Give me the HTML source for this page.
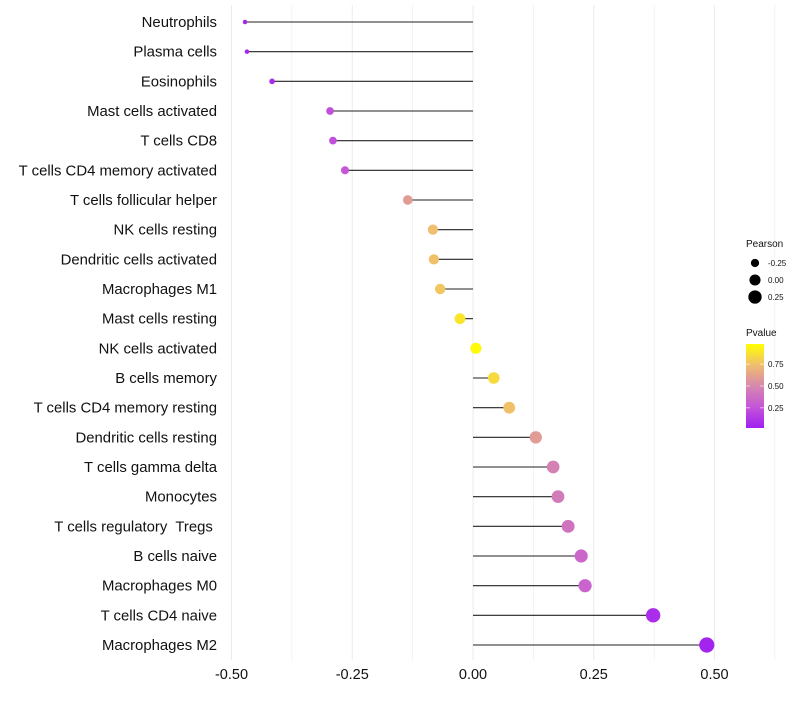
<!DOCTYPE html>
<html><head><meta charset="utf-8"><style>
body{margin:0;background:#fff;font-family:"Liberation Sans",sans-serif}
svg text{font-family:"Liberation Sans",sans-serif;white-space:pre}
</style></head><body>
<svg id="chart" width="800" height="700"></svg>
<script>
const categories=["Neutrophils","Plasma cells","Eosinophils","Mast cells activated","T cells CD8","T cells CD4 memory activated","T cells follicular helper","NK cells resting","Dendritic cells activated","Macrophages M1","Mast cells resting","NK cells activated","B cells memory","T cells CD4 memory resting","Dendritic cells resting","T cells gamma delta","Monocytes","T cells regulatory  Tregs ","B cells naive","Macrophages M0","T cells CD4 naive","Macrophages M2"];
const pearson=[-0.472,-0.468,-0.416,-0.296,-0.290,-0.265,-0.135,-0.083,-0.081,-0.068,-0.027,0.006,0.043,0.075,0.130,0.166,0.176,0.197,0.224,0.232,0.373,0.484];
const pvalue=[0.03,0.03,0.06,0.22,0.22,0.26,0.6,0.75,0.76,0.78,0.9,0.98,0.86,0.76,0.6,0.47,0.44,0.4,0.34,0.32,0.06,0.02];
const xTicks=[-0.5,-0.25,0,0.25,0.5];
const xTickLabels=["-0.50","-0.25","0.00","0.25","0.50"];
const sizeLegend=[-0.25,0,0.25];
const colorLegend=[0.75,0.5,0.25];

const NS="http://www.w3.org/2000/svg";
const svg=document.getElementById('chart');
const X=v=>473+v*483;
const Y=i=>22+i*(623/21);
const R=v=>Math.sqrt(Math.max(3,5+55*(v+0.47)));
function mk(t,a,p){const e=document.createElementNS(NS,t);for(const k in a)e.setAttribute(k,a[k]);(p||svg).appendChild(e);return e;}
const stops=[[0,[160,32,240]],[0.25,[196,85,216]],[0.5,[215,135,175]],[0.75,[240,190,110]],[1,[255,255,0]]];
function col(p){for(let i=1;i<stops.length;i++){if(p<=stops[i][0]){const [a,ca]=stops[i-1],[b,cb]=stops[i];const t=(p-a)/(b-a);return 'rgb('+ca.map((c,j)=>Math.round(c+(cb[j]-c)*t)).join(',')+')';}}return 'rgb(255,255,0)';}

for(let k=-0.5;k<=0.626;k+=0.125){
  const g=mk('line',{x1:X(k),x2:X(k),y1:5,y2:660,stroke:'#ebebeb','stroke-width':Math.abs((k*4)%1)<0.01?1:0.6});
  
  
}
xTicks.forEach((v,i)=>{
  const t=mk('text',{x:X(v),y:679,'text-anchor':'middle','font-size':14.5,fill:'#111'});
  t.textContent=xTickLabels[i];
  
  
});
categories.forEach((c,i)=>{
  const t=mk('text',{x:217,y:Y(i)+5,'text-anchor':'end','font-size':14.9,fill:'#111','xml:space':'preserve'});
  t.textContent=c;
  
  
  const l=mk('line',{x1:X(0),x2:X(pearson[i]),y1:Y(i),y2:Y(i),stroke:'#222','stroke-width':1.1});
  
  
  const d=mk('circle',{cx:X(pearson[i]),cy:Y(i),r:R(pearson[i]),fill:col(pvalue[i])});
  
  
});
let t=mk('text',{x:746,y:247,'font-size':10,fill:'#111'});t.textContent='Pearson';


sizeLegend.forEach((v,i)=>{
  const y=263+i*17;
  const c=mk('circle',{cx:755,cy:y,r:R(v),fill:'#000'});
  
  
  const tt=mk('text',{x:768,y:y+3,'font-size':8,fill:'#111'});tt.textContent=v.toFixed(2);
  
  
});
t=mk('text',{x:746,y:336,'font-size':10,fill:'#111'});t.textContent='Pvalue';


const defs=mk('defs',{});
const lg=mk('linearGradient',{id:'pg',x1:0,y1:1,x2:0,y2:0},defs);
stops.forEach(s=>mk('stop',{offset:s[0],'stop-color':col(s[0])},lg));
const bar=mk('rect',{x:746,y:344,width:18,height:84,fill:'url(#pg)'});


colorLegend.forEach(v=>{
  const y=428-(v-0.02)/0.96*84;
  mk('line',{x1:746,x2:750,y1:y,y2:y,stroke:'#fff','stroke-width':0.6});
  mk('line',{x1:760,x2:764,y1:y,y2:y,stroke:'#fff','stroke-width':0.6});
  const tt=mk('text',{x:768,y:y+3,'font-size':8,fill:'#111'});tt.textContent=v.toFixed(2);
  
  
});
</script>
</body></html>
